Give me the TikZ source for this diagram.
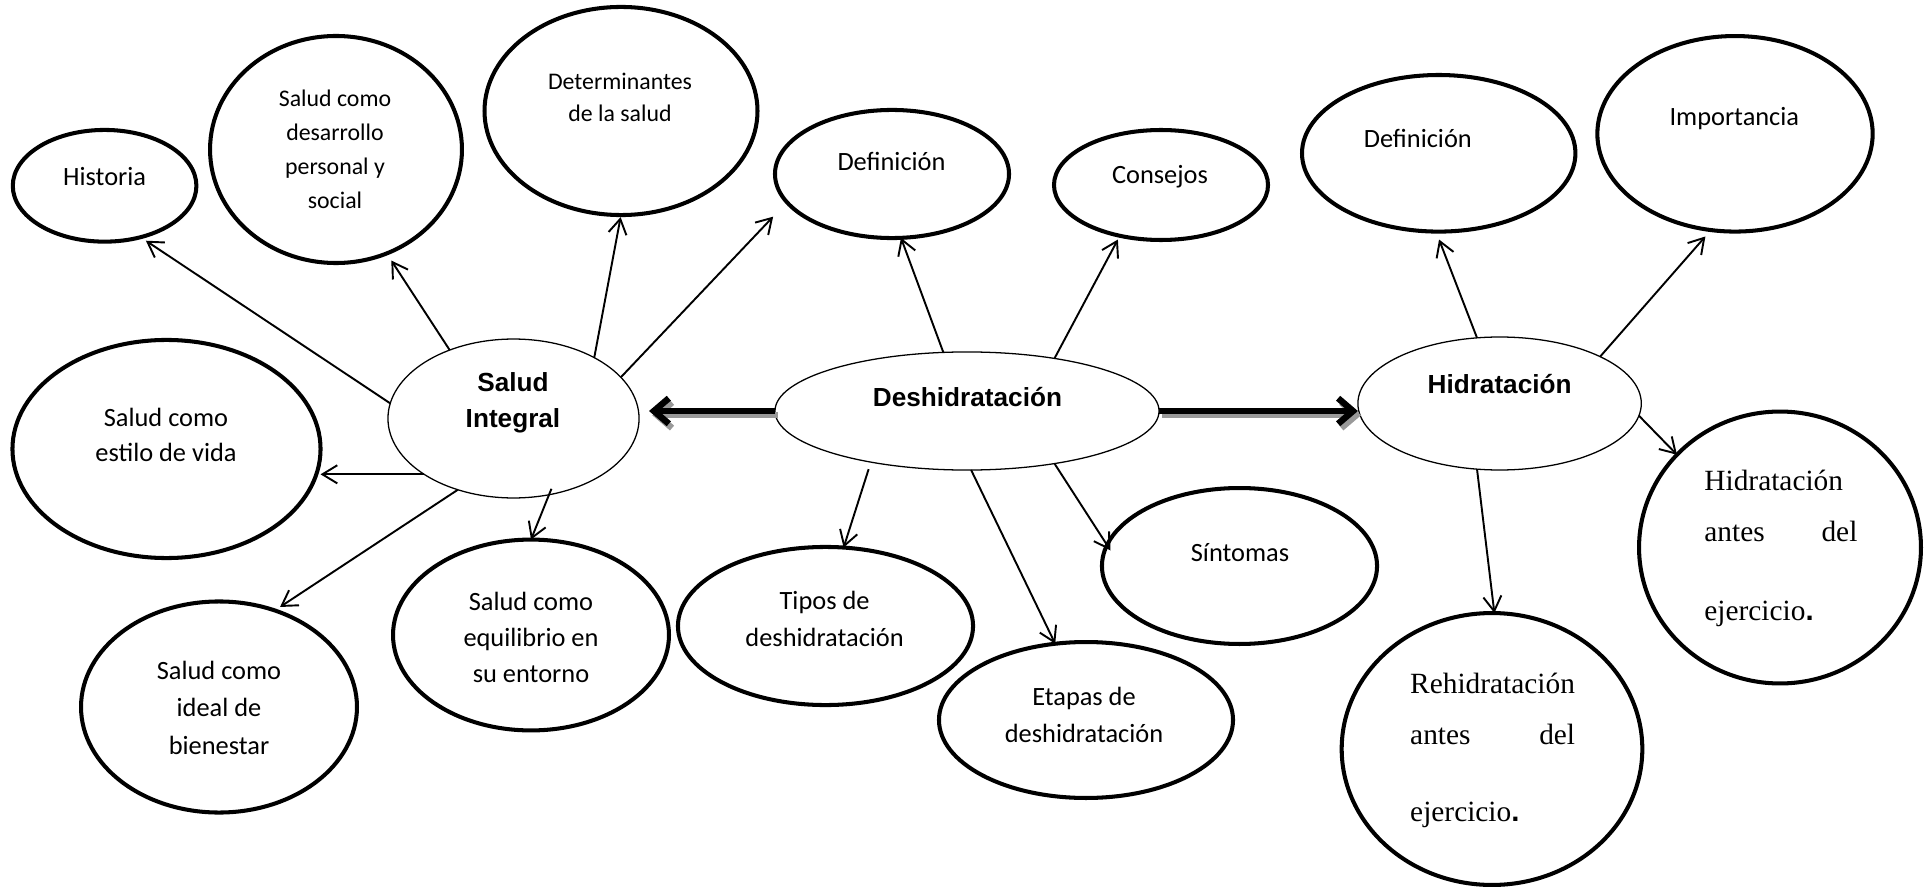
\documentclass[tikz,border=0pt]{standalone}
\usepackage{fontspec}
\setmainfont{Carlito}
\newfontfamily\arialfont{Liberation Sans}
\newfontfamily\timesfont{Liberation Serif}
\usetikzlibrary{shapes.geometric,arrows.meta,calc}
\begin{document}
\begin{tikzpicture}[x=0.47pt,y=-0.47pt,
  bub/.style={ellipse, draw, line width=1.9pt, inner sep=0pt, outer sep=0pt},
  core/.style={ellipse, draw, line width=0.6pt, inner sep=0pt, outer sep=0pt},
  lbl/.style={align=center, inner sep=0pt, font=\fontsize{12.4}{17}\selectfont},
  smalllbl/.style={lbl, font=\fontsize{11.2}{16}\selectfont},
  corelbl/.style={align=center, inner sep=0pt, font=\arialfont\bfseries\fontsize{12.3}{17}\selectfont},
  serlbl/.style={anchor=north west, align=left, inner sep=0pt, font=\timesfont\fontsize{13.8}{24}\selectfont},
  conn/.style={line width=0.9pt, -{Straight Barb[length=7pt,width=8.5pt]}},
  bigarr/.style={line width=3pt, -{Straight Barb[length=7pt,width=12pt]}},
  bigshadow/.style={bigarr, draw=black!40, transform canvas={shift={(1.5pt,-2pt)}}}
]
\useasboundingbox (0,0) rectangle (1926,888);

% ellipses
\node[bub, minimum width=86.3pt, minimum height=52.5pt] (Hist) at (104.6,185.8) {};
\node[bub, minimum width=118.4pt, minimum height=106.7pt] (Desa) at (336,149.5) {};
\node[bub, minimum width=128.3pt, minimum height=97.8pt] (Dete) at (621,111) {};
\node[bub, minimum width=110pt, minimum height=60.2pt] (DefM) at (892,174) {};
\node[bub, minimum width=100.6pt, minimum height=51.7pt] (Cons) at (1161,185) {};
\node[bub, minimum width=128.5pt, minimum height=73.6pt] (DefH) at (1438.7,153.3) {};
\node[bub, minimum width=129.4pt, minimum height=91.9pt] (Impo) at (1735,133.8) {};
\node[bub, minimum width=144.8pt, minimum height=102.5pt] (Esti) at (166.5,449) {};
\node[core, minimum width=118pt, minimum height=74.7pt] (SI) at (513.5,418.5) {};
\node[core, minimum width=180.5pt, minimum height=55.5pt] (D) at (967,411) {};
\node[core, minimum width=133.2pt, minimum height=62.5pt] (H) at (1499.6,403.5) {};
\node[bub, minimum width=129.7pt, minimum height=99.2pt] (Idea) at (219,707) {};
\node[bub, minimum width=129.7pt, minimum height=89.7pt] (Equi) at (531,635) {};
\node[bub, minimum width=138.7pt, minimum height=74.3pt] (Tipo) at (825.5,626) {};
\node[bub, minimum width=138.2pt, minimum height=73.3pt] (Etap) at (1086,720) {};
\node[bub, minimum width=129.3pt, minimum height=73.3pt] (Sint) at (1239.5,566) {};
\node[bub, minimum width=141.3pt, minimum height=127.8pt] (Rehi) at (1492,749) {};
\node[bub, minimum width=132.5pt, minimum height=127.8pt] (HAnt) at (1780,547.5) {};

% texts
\node[lbl] (tHist) at (104.6,177) {Historia};
\node[smalllbl] (tDesa) at (335,149) {Salud como\\desarrollo\\personal y\\social};
\node[smalllbl, font=\fontsize{11.2}{14.9}\selectfont] (tDete) at (620,97.5) {Determinantes\\de la salud};
\node[lbl] (tDefM) at (891.5,161) {Definición};
\node[lbl] (tCons) at (1160,177) {Consejos};
\node[lbl] (tDefH) at (1417.8,138.3) {Definición};
\node[lbl] (tImpo) at (1734.3,118.3) {Importancia};
\node[lbl, font=\fontsize{12.4}{16.7}\selectfont] (tEsti) at (166,435) {Salud como\\estilo de vida};
\node[corelbl] (tSI) at (513,403) {Salud\\Integral};
\node[corelbl] (tD) at (967.5,396.7) {Deshidratación};
\node[corelbl] (tH) at (1499.6,384) {Hidratación};
\node[lbl, font=\fontsize{12.4}{17.6}\selectfont] (tIdea) at (219,707.5) {Salud como\\ideal de\\bienestar};
\node[lbl] (tEqui) at (531,637.5) {Salud como\\equilibrio en\\su entorno};
\node[lbl] (tTipo) at (824.6,619) {Tipos de\\deshidratación};
\node[lbl] (tEtap) at (1084,715) {Etapas de\\deshidratación};
\node[lbl] (tSint) at (1240,552.7) {Síntomas};
\node[serlbl] (tRehi) at (1409.8,673) {Rehidratación\\\hbox to 77.5pt{antes\hfill del}\\[12.2pt]ejercicio{\arialfont\bfseries .}};
\node[serlbl] (tHAnt) at (1704,470) {Hidratación\\\hbox to 71.9pt{antes\hfill del}\\[12.8pt]ejercicio{\arialfont\bfseries .}};

% thick arrows with shadow
\draw[bigshadow, shorten >=4.7pt] (D.west) -- (D.west -| SI.east);
\draw[bigarr, shorten >=4.7pt] (D.west) -- (D.west -| SI.east);
\draw[bigshadow] (D.east) -- (D.east -| H.west);
\draw[bigarr] (D.east) -- (D.east -| H.west);

% Salud Integral connectors
\draw[conn, shorten >=3pt] (SI.173) -- (Hist.305);
\draw[conn, shorten >=4pt] (SI.133.4) -- (Desa.296);
\draw[conn, shorten >=1pt] (SI.37.5) -- (Dete.270);
\draw[conn, shorten >=9.4pt] (SI.21.7) -- (DefM.195);
\draw[conn] (SI.212) -- (SI.212 -| Esti.east);
\draw[conn, shorten >=3pt] (SI.232.2) -- (Idea.60.2);
\draw[conn, shorten <=-3pt] (SI.295.7) -- (Equi.90);

% Deshidratacion connectors
\draw[conn] (D.112.5) -- (DefM.278.6);
\draw[conn, shorten >=2pt] (D.31) -- (Cons.231);
\draw[conn, shorten <=3.5pt] (D.208.4) -- (Tipo.77.3);
\draw[conn] (D.274.1) -- (Etap.112.5);
\draw[conn, shorten >=-3pt] (D.329) -- (Sint.171.2);

% Hidratacion connectors
\draw[conn, shorten >=4pt] (H.109.1) -- (DefH.268);
\draw[conn, shorten >=4pt] (H.25.5) -- (Impo.256.2);
\draw[conn] (H.355.9) -- (HAnt.138.1);
\draw[conn] (H.251.3) -- (Rehi.89.3);
\end{tikzpicture}
\end{document}
